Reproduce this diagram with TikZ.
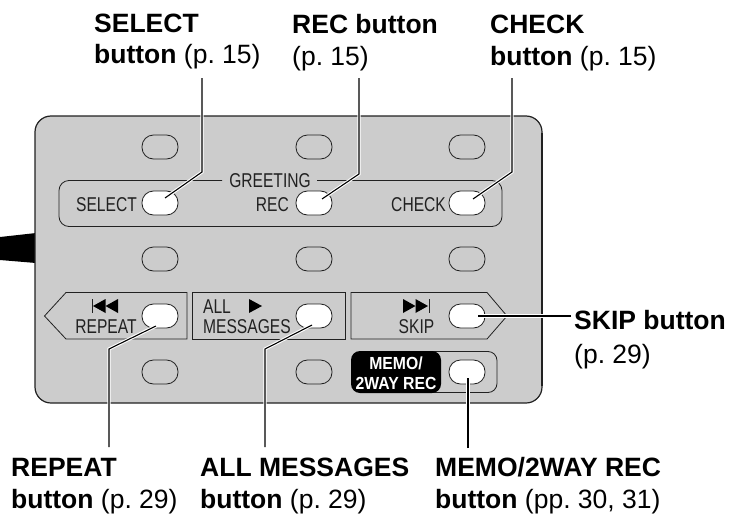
\documentclass[tikz,border=0pt]{standalone}
\usepackage{fontspec}
\setmainfont{Liberation Sans}
\frenchspacing
\definecolor{panelgrey}{gray}{0.8}
\definecolor{inkline}{gray}{0.13}
\tikzset{
  panelbtn/.style={draw=inkline,line width=0.8pt,rounded corners=11.5pt,minimum width=36pt,minimum height=24pt,inner sep=0pt,outer sep=0pt},
  idlebtn/.style={panelbtn,fill=panelgrey},
  litbtn/.style={panelbtn,fill=white},
  groupbox/.style={draw=inkline,line width=0.8pt},
  paneltext/.style={font=\fontsize{20}{21}\selectfont,inkline,inner sep=0pt,xscale=0.78,transform shape,anchor=base},
  callout/.style={font=\fontsize{26.5}{32}\selectfont,inner sep=0pt,anchor=base west},
  halo/.style={draw=white,line width=3.2pt,line join=miter},
  leader/.style={draw=black,line width=1.1pt,line join=miter},
  tri/.style={fill=black,draw=none}
}
\newcommand{\lead}[1]{\draw[halo] #1; \draw[leader] #1;}
\begin{document}
\begin{tikzpicture}[x=1pt,y=-1pt]
\useasboundingbox (0,0) rectangle (739,514);
% cord and panel
\fill[black] (0,237) -- (36,233) -- (36,263) -- (0,260) -- cycle;
\draw[fill=panelgrey,draw=inkline,line width=1.2pt,rounded corners=16pt] (35,116) rectangle (542,403);
\draw[inkline,line width=2pt] (542,133) -- (542,386);
% group outlines
\draw[groupbox,rounded corners=10pt] (222,180.5) -- (59,180.5) -- (59,226.5) -- (502,226.5) -- (502,180.5) -- (317,180.5);
\draw[groupbox] (44.5,316) -- (66,292.5) -- (187,292.5) -- (187,339) -- (66,339) -- cycle;
\draw[groupbox] (192.5,292.5) rectangle (345,339);
\draw[groupbox] (351,292.5) -- (487,292.5) -- (507,316) -- (487,339) -- (351,339) -- cycle;
\draw[groupbox,rounded corners=9pt] (400,351.5) -- (497,351.5) -- (497,392.5) -- (400,392.5);
\fill[black,rounded corners=9pt] (351,351) rectangle (441,393);
% idle buttons
\node[idlebtn] (b11) at (160,147) {};
\node[idlebtn] (b12) at (314,147) {};
\node[idlebtn] (b13) at (467,147) {};
\node[idlebtn] (b31) at (160,259) {};
\node[idlebtn] (b32) at (314,259) {};
\node[idlebtn] (b33) at (467,259) {};
\node[idlebtn] (b51) at (160,372) {};
\node[idlebtn] (b52) at (314,372) {};
% lit buttons
\node[litbtn] (select) at (160,203) {};
\node[litbtn] (rec) at (314,203) {};
\node[litbtn] (check) at (467,203) {};
\node[litbtn] (repeat) at (160,316) {};
\node[litbtn] (allmsg) at (314,316) {};
\node[litbtn] (skip) at (467,316) {};
\node[litbtn] (memo) at (467,372) {};
% panel labels
\node[paneltext] (tgreet) at (270,187) {GREETING};
\node[paneltext,anchor=base east] (tselect) at (137,211) {SELECT};
\node[paneltext,anchor=base east] (trec) at (289,211) {REC};
\node[paneltext,anchor=base east] (tcheck) at (446,211) {CHECK};
\node[paneltext] (trepeat) at (106,333) {REPEAT};
\node[paneltext,anchor=base west] (tall) at (203,313) {ALL};
\node[paneltext,anchor=base west] (tmsg) at (203,333) {MESSAGES};
\node[paneltext] (tskip) at (416.5,333) {SKIP};
\node[font=\bfseries\fontsize{17.5}{19.5}\selectfont,text=white,inner sep=0pt,xscale=0.9,transform shape,anchor=base] (tmemo1) at (396,369) {MEMO/};
\node[font=\bfseries\fontsize{17.5}{19.5}\selectfont,text=white,inner sep=0pt,xscale=0.9,transform shape,anchor=base] (tmemo2) at (396,389) {2WAY REC};
% transport symbols
\draw[inkline,line width=0.8pt] (92.5,299) -- (92.5,313);
\fill[tri] (93,306) -- (105.5,299) -- (105.5,313) -- cycle;
\fill[tri] (105.5,306) -- (118,299) -- (118,313) -- cycle;
\fill[tri] (249,299) -- (262,306) -- (249,313) -- cycle;
\fill[tri] (403,299) -- (415.5,306) -- (403,313) -- cycle;
\fill[tri] (415.5,299) -- (428,306) -- (415.5,313) -- cycle;
\draw[inkline,line width=0.8pt] (429,299) -- (429,313);
% leader coordinates
\coordinate (ls0) at (202,78); \coordinate (ls1) at (202,172); \coordinate (ls2) at (165,198);
\coordinate (lr0) at (359,78); \coordinate (lr1) at (359,174); \coordinate (lr2) at (322,199);
\coordinate (lc0) at (512,78); \coordinate (lc1) at (512,172); \coordinate (lc2) at (473,199);
\coordinate (lp0) at (109,447); \coordinate (lp1) at (109,349); \coordinate (lp2) at (156,326);
\coordinate (la0) at (265,447); \coordinate (la1) at (265,349); \coordinate (la2) at (312,325);
\coordinate (lk0) at (571,316); \coordinate (lk2) at (478,316);
\coordinate (lm0) at (468,448); \coordinate (lm2) at (468,378);
\lead{(ls0) -- (ls1) -- (ls2)}
\lead{(lr0) -- (lr1) -- (lr2)}
\lead{(lc0) -- (lc1) -- (lc2)}
\lead{(lp0) -- (lp1) -- (lp2)}
\lead{(la0) -- (la1) -- (la2)}
\lead{(lk0) -- (lk2)}
\lead{(lm0) -- (lm2)}
% callouts
\node[callout] (cselect1) at (94,32) {\textbf{SELECT}};
\node[callout] (cselect2) at (94,63.5) {\textbf{button} (p. 15)};
\node[callout] (crec1) at (292,34) {\textbf{REC button}};
\node[callout] (crec2) at (292,65) {(p. 15)};
\node[callout] (ccheck1) at (490,34) {\textbf{CHECK}};
\node[callout] (ccheck2) at (490,65.5) {\textbf{button} (p. 15)};
\node[callout] (cskip1) at (574,329) {\textbf{SKIP button}};
\node[callout] (cskip2) at (574,363) {(p. 29)};
\node[callout] (crepeat1) at (11,476) {\textbf{REPEAT}};
\node[callout] (crepeat2) at (11,508) {\textbf{button} (p. 29)};
\node[callout] (call1) at (200,476) {\textbf{ALL MESSAGES}};
\node[callout] (call2) at (200,508) {\textbf{button} (p. 29)};
\node[callout] (cmemo1) at (435,476) {\textbf{MEMO/2WAY REC}};
\node[callout] (cmemo2) at (435,508) {\textbf{button} (pp. 30, 31)};
\end{tikzpicture}
\end{document}
